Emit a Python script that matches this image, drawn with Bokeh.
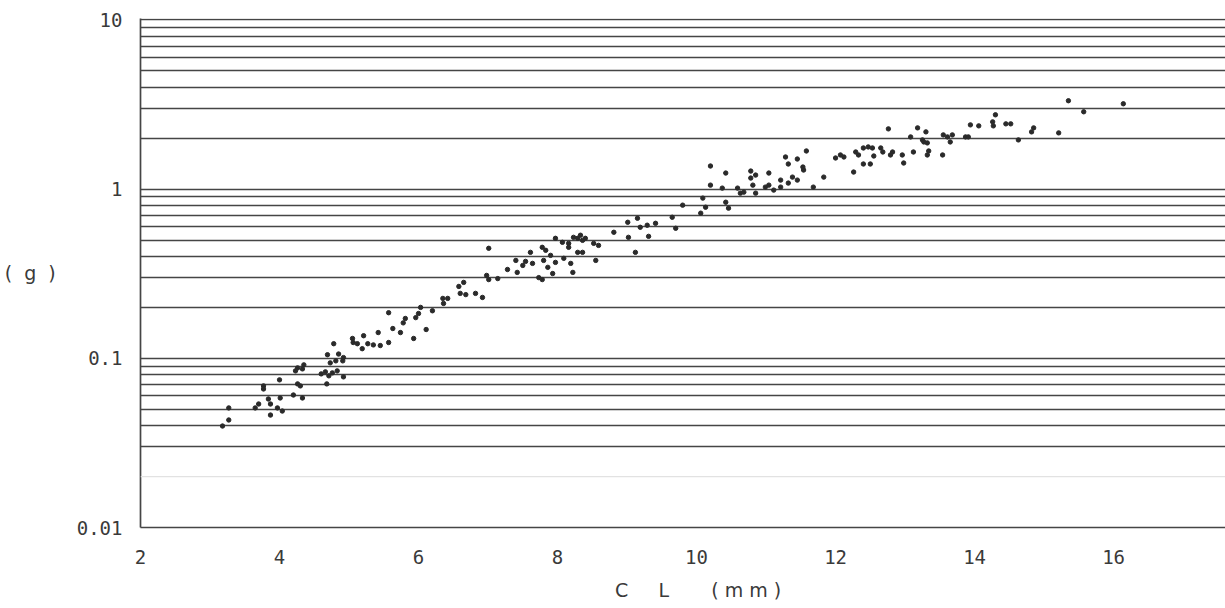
from bokeh.plotting import figure
from bokeh.models import FixedTicker, Range1d, Span
from bokeh.embed import file_html
from bokeh.resources import INLINE

# Carapace length (mm) and body weight (g)
cl_mm = [3.18, 3.27, 3.27, 3.65, 3.70, 3.84, 3.87, 3.87, 3.97, 4.04, 4.01, 3.77, 3.77, 4.00, 4.20, 4.26, 4.33, 4.30, 4.23, 4.26,
         4.35, 4.33, 4.60, 4.66, 4.71, 4.76, 4.83, 4.92, 4.68, 4.69, 4.73, 4.81, 4.85, 4.91, 4.92,
         5.05, 5.06, 5.12, 5.21, 5.19, 5.27, 5.35, 5.45, 5.42, 5.57, 5.63, 5.57, 5.74, 5.78, 5.81, 5.93, 5.96, 6.00, 6.03, 6.11,
         6.20, 4.78, 6.36, 6.42, 6.35,
         6.58, 6.60, 6.68, 6.82, 6.92, 6.65, 6.98, 7.01, 7.14, 7.01, 7.28, 7.42, 7.40, 7.50, 7.54, 7.64, 7.61, 7.73, 7.78, 7.78,
         7.83, 7.80, 7.86, 7.93, 7.90, 7.97, 7.97, 8.07, 8.09, 8.16, 8.19, 8.22, 8.16, 8.23, 8.29, 8.33, 8.36, 8.29, 8.36, 8.40,
         8.52, 8.59, 8.55,
         8.81, 9.01, 9.02, 9.12, 9.15, 9.19, 9.31, 9.29, 9.41, 9.70, 9.80, 9.65, 10.06, 10.09, 10.13, 10.42, 10.46, 10.20, 10.20, 10.37,
         10.42, 10.59, 10.63, 10.68, 10.85, 10.78, 10.85, 10.78, 10.81, 10.99, 11.04, 11.04, 11.11, 11.21, 11.21, 11.32, 11.38, 11.32, 11.28, 11.45,
         11.45, 11.53, 11.54, 11.58, 11.68, 11.83, 12.00, 12.07, 12.12, 12.26, 12.29, 12.33, 12.40, 12.47, 12.53, 12.40, 12.50, 12.55,
         12.65, 12.68, 12.76, 12.79, 12.82, 12.96, 12.98, 13.08, 13.12, 13.18, 13.25, 13.27, 13.32, 13.30, 13.34, 13.32, 13.54, 13.55, 13.61, 13.65,
         13.68, 13.87, 13.91, 13.94, 14.06, 14.26, 14.30, 14.27, 14.45, 14.52, 14.63, 14.85, 14.82, 15.21, 15.35, 15.57, 16.14]

weight_g = [0.0398, 0.0432, 0.0509, 0.0509, 0.0537, 0.0575, 0.0537, 0.0462, 0.0509, 0.0488, 0.0583, 0.0687, 0.0659, 0.0746, 0.0607, 0.0706, 0.0583, 0.0687, 0.0843, 0.0878,
            0.0915, 0.0866, 0.0809, 0.0832, 0.0788, 0.0820, 0.0843, 0.0777, 0.0706, 0.105, 0.0940, 0.0966, 0.106, 0.0966, 0.101,
            0.131, 0.124, 0.122, 0.136, 0.114, 0.122, 0.120, 0.119, 0.142, 0.124, 0.150, 0.186, 0.142, 0.162, 0.172, 0.131, 0.174, 0.184, 0.200, 0.148,
            0.191, 0.122, 0.211, 0.226, 0.226,
            0.266, 0.242, 0.238, 0.242, 0.229, 0.281, 0.309, 0.292, 0.296, 0.447, 0.335, 0.322, 0.379, 0.354, 0.374, 0.364, 0.423, 0.300, 0.292, 0.453,
            0.435, 0.379, 0.345, 0.317, 0.406, 0.369, 0.512, 0.485, 0.390, 0.478, 0.364, 0.322, 0.453, 0.519, 0.512, 0.534, 0.498, 0.423, 0.423, 0.512,
            0.478, 0.465, 0.379,
            0.556, 0.637, 0.519, 0.423, 0.673, 0.595, 0.526, 0.612, 0.628, 0.587, 0.804, 0.682, 0.721, 0.885, 0.782, 0.837, 0.772, 1.056, 1.370, 1.014,
            1.245, 1.014, 0.947, 0.960, 0.947, 1.279, 1.211, 1.163, 1.056, 1.028, 1.245, 1.056, 0.987, 1.131, 1.028, 1.086, 1.178, 1.408, 1.549, 1.131,
            1.507, 1.351, 1.297, 1.681, 1.028, 1.178, 1.528, 1.592, 1.549, 1.262, 1.658, 1.592, 1.751, 1.776, 1.751, 1.408, 1.408, 1.570,
            1.751, 1.658, 2.271, 1.592, 1.658, 1.592, 1.427, 2.035, 1.658, 2.302, 1.954, 1.901, 1.876, 2.180, 1.681, 1.592, 1.592, 2.092, 2.035, 1.901,
            2.092, 2.035, 2.035, 2.398, 2.366, 2.498, 2.750, 2.366, 2.432, 2.432, 1.954, 2.302, 2.180, 2.150, 3.330, 2.865, 3.196]

x_ticks = [2, 4, 6, 8, 10, 12, 14, 16]
y_ticks = [0.01, 0.1, 1, 10]
y_tick_labels = ["0.01", "0.1", "1", "10"]
grid_vals = [0.03, 0.04, 0.05, 0.06, 0.07, 0.08, 0.09, 0.1,
             0.2, 0.3, 0.4, 0.5, 0.6, 0.7, 0.8, 0.9, 1,
             2, 3, 4, 5, 6, 7, 8, 9, 10]
faint_grid = 0.02

x_title = "\u00a0" * 5 + "C" + "\u00a0" * 5 + "L" + "\u00a0" * 7 + "(\u00a0m\u00a0m\u00a0)"
y_title = "(\u00a0\u00a0g\u00a0\u00a0)"

LINE = "#454545"
TEXT = "#3a3a3a"
NUM_FONT = "DejaVu Sans Mono"

p = figure(width=1225, height=608, y_axis_type="log",
           x_range=Range1d(2, 17.61), y_range=Range1d(0.01, 10.2),
           output_backend="svg", toolbar_location=None,
           min_border_left=140, min_border_right=0,
           min_border_top=18, min_border_bottom=81)
p.outline_line_color = None
p.background_fill_color = "white"
p.border_fill_color = "white"

p.xgrid.visible = False
p.ygrid.ticker = FixedTicker(ticks=grid_vals)
p.ygrid.grid_line_color = LINE
p.ygrid.grid_line_width = 1.7
p.ygrid.minor_grid_line_color = None

p.add_layout(Span(location=faint_grid, dimension="width",
                  line_color="#e2e2e2", line_width=1.2))

for ax in (p.xaxis[0], p.yaxis[0]):
    ax.axis_line_color = LINE
    ax.axis_line_width = 1.7
    ax.major_tick_line_color = None
    ax.minor_tick_line_color = None
    ax.major_tick_out = 0
    ax.minor_tick_out = 0
    ax.major_tick_in = 0
    ax.minor_tick_in = 0
    ax.major_label_text_font = NUM_FONT
    ax.major_label_text_font_size = "19px"
    ax.major_label_text_color = TEXT
    ax.axis_label_text_font = "DejaVu Sans"
    ax.axis_label_text_font_style = "normal"
    ax.axis_label_text_color = TEXT

p.xaxis.ticker = FixedTicker(ticks=x_ticks, minor_ticks=[])
p.xaxis.major_label_standoff = 22
p.xaxis.axis_label = x_title
p.xaxis.axis_label_text_font_size = "19px"
p.xaxis.axis_label_standoff = 12

p.yaxis.ticker = FixedTicker(ticks=y_ticks, minor_ticks=[])
p.yaxis.major_label_overrides = dict(zip(y_ticks, y_tick_labels))
p.yaxis.major_label_standoff = 18
p.yaxis.axis_label = y_title
p.yaxis.axis_label_orientation = "horizontal"
p.yaxis.axis_label_text_font_size = "19px"
p.yaxis.axis_label_standoff = 18

p.scatter(cl_mm, weight_g, size=4.4, color="#2a2a2a", marker="circle")

open("out.html", "w").write(file_html(p, INLINE))
